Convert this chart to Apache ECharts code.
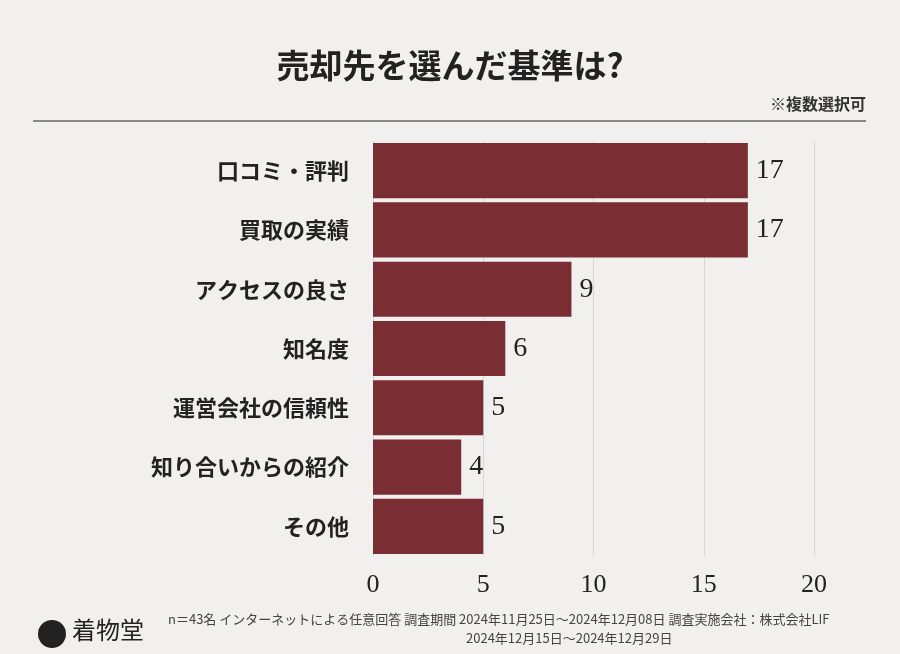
<!DOCTYPE html>
<html>
<head>
<meta charset="utf-8">
<script src="https://cdn.jsdelivr.net/npm/echarts@6/dist/echarts.min.js"></script>
<style>
html,body{margin:0;padding:0;background:#f1f0ef}
#main{width:900px;height:654px}
</style>
</head>
<body>
<div id="main"></div>
<script>
var categories = ['口コミ・評判', '買取の実績', 'アクセスの良さ', '知名度', '運営会社の信頼性', '知り合いからの紹介', 'その他']
var values = [17, 17, 9, 6, 5, 4, 5]
var xTicks = [0, 5, 10, 15, 20]

var font = '"Noto Sans CJK JP", sans-serif'
var serif = '"Liberation Serif", "DejaVu Serif", serif'
var chart = echarts.init(document.getElementById('main'))

var option = {
    backgroundColor: '#f1f0ef',
    title: {
        text: '売却先を選んだ基準は?',
        left: 'center',
        top: 44,
        textStyle: { fontFamily: font, fontSize: 33, fontWeight: 'bold', color: '#222' }
    },
    graphic: [
        { type: 'line', shape: { x1: 33, y1: 121, x2: 866, y2: 121 }, style: { stroke: '#222', lineWidth: 1 } },
        { type: 'text', right: 34, top: 96, style: { text: '※複数選択可', font: 'bold 16px ' + font, fill: '#333' } },
        { type: 'circle', shape: { cx: 52, cy: 634, r: 14 }, style: { fill: '#222' } },
        { type: 'text', left: 72, top: 618, style: { text: '着物堂', font: '24px ' + font, fill: '#222' } },
        { type: 'text', left: 168, top: 613, style: { text: 'n＝43名 インターネットによる任意回答 調査期間 2024年11月25日～2024年12月08日 調査実施会社：株式会社LIF', font: '13px ' + font, fill: '#444' } },
        { type: 'text', left: 466, top: 632, style: { text: '2024年12月15日～2024年12月29日', font: '13px ' + font, fill: '#444' } }
    ],
    grid: { left: 373, right: 86, top: 141, bottom: 98 },
    xAxis: {
        type: 'value',
        min: 0,
        max: 20,
        interval: 5,
        axisLine: { show: false },
        axisTick: { show: false },
        axisLabel: {
            fontFamily: serif, fontSize: 26, color: '#222', margin: 16,
            formatter: function (v) { return xTicks.indexOf(v) >= 0 ? v : '' }
        },
        splitLine: { lineStyle: { color: '#d6d6d6', width: 1 } }
    },
    yAxis: {
        type: 'category',
        data: categories,
        inverse: true,
        axisLine: { show: false },
        axisTick: { show: false },
        axisLabel: { fontFamily: font, fontSize: 22, fontWeight: 'bold', color: '#222', margin: 24 }
    },
    series: [{
        type: 'bar',
        data: values,
        barCategoryGap: '7%',
        itemStyle: { color: '#7a2d33' },
        label: {
            show: true,
            position: 'right',
            distance: 8,
            fontFamily: serif,
            fontSize: 28,
            color: '#222'
        }
    }]
}

chart.setOption(option)
</script>
</body>
</html>
